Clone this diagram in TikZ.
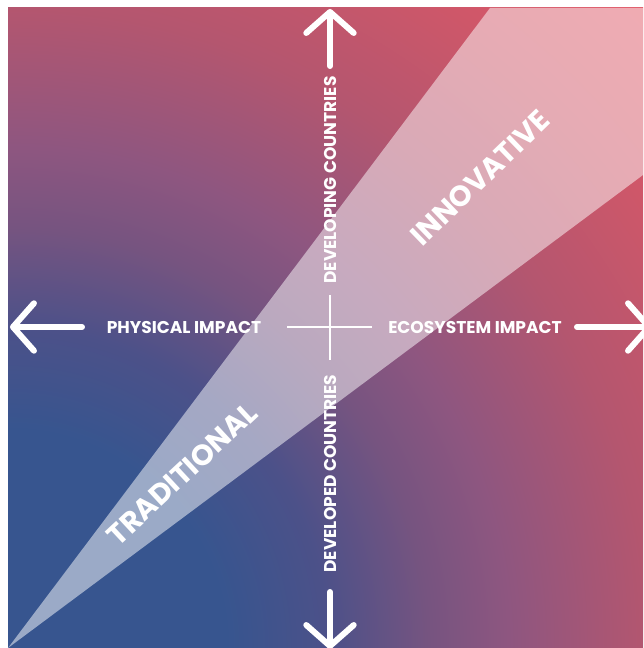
\documentclass[tikz,border=0pt]{standalone}
\usepackage{fontspec}
\setmainfont{Poppins}
\usetikzlibrary{arrows.meta}

\definecolor{navyblue}{HTML}{37558F}
\definecolor{duskblue}{HTML}{4C5189}
\definecolor{plum}{HTML}{765480}
\definecolor{mauve}{HTML}{8E5680}
\definecolor{rosewood}{HTML}{B4566F}
\definecolor{coral}{HTML}{CF5769}
\definecolor{hotred}{HTML}{E25766}

\pgfdeclareradialshading{cornerglow}{\pgfpointorigin}{%
  color(0bp)=(navyblue); color(6bp)=(navyblue); color(8.8bp)=(duskblue);
  color(11.55bp)=(plum); color(13.75bp)=(mauve); color(17.6bp)=(rosewood);
  color(21.45bp)=(coral); color(25bp)=(hotred); color(50bp)=(hotred)}

\tikzset{
  axis arrow/.style={white, line width=3.4pt, line cap=round,
    -{Straight Barb[length=0.42cm, width=0.95cm, round]}},
  cross line/.style={white, line width=1.6pt},
  axis label/.style={white, inner sep=0pt, font=\bfseries\fontsize{9.7}{11}\selectfont},
  wedge label/.style={white, inner sep=0pt, font=\bfseries\fontsize{16.5}{19}\selectfont},
}

\begin{document}
\begin{tikzpicture}
  \useasboundingbox (-0.16,0) rectangle (12.70,12.96);
  \fill[white] (-0.16,0) rectangle (12.70,12.96);
  % Background gradient
  \begin{scope}
    \clip (0,0) rectangle (12.70,12.80);
    \shade[shading=cornerglow] (0,0) circle (18.2);
  \end{scope}
  % Light wedge
  \fill[white, fill opacity=0.5] (0,0) -- (9.64,12.80) -- (12.70,12.80) -- (12.70,9.46) -- cycle;
  % Axis labels
  \node[axis label, rotate=90] (developing) at (6.44,9.36) {DEVELOPING COUNTRIES};
  \node[axis label, rotate=90] (developed) at (6.44,3.49) {DEVELOPED COUNTRIES};
  \node[axis label] (physical) at (3.52,6.42) {PHYSICAL IMPACT};
  \node[axis label] (ecosystem) at (9.34,6.42) {ECOSYSTEM IMPACT};
  % Wedge labels
  \node[wedge label, rotate=43] (traditional) at (3.48,3.48) {TRADITIONAL};
  \node[wedge label, rotate=44] (innovative) at (9.44,9.40) {INNOVATIVE};
  % Arrow ends
  \coordinate (north base) at (6.44,11.64);
  \coordinate (north tip) at (6.44,12.78);
  \coordinate (south base) at (6.44,1.12);
  \coordinate (south tip) at (6.44,-0.02);
  \coordinate (west base) at (1.48,6.42);
  \coordinate (west tip) at (0.04,6.42);
  \coordinate (east base) at (11.38,6.42);
  \coordinate (east tip) at (12.88,6.42);
  \draw[axis arrow] (north base) -- (north tip);
  \draw[axis arrow] (south base) -- (south tip);
  \draw[axis arrow] (west base) -- (west tip);
  \draw[axis arrow] (east base) -- (east tip);
  % Centre cross
  \coordinate (cross top) at (6.44,7.06);
  \coordinate (cross bottom) at (6.44,5.76);
  \coordinate (cross left) at (5.58,6.42);
  \coordinate (cross right) at (7.28,6.42);
  \draw[cross line] (cross top) -- (cross bottom);
  \draw[cross line] (cross left) -- (cross right);
\end{tikzpicture}
\end{document}
